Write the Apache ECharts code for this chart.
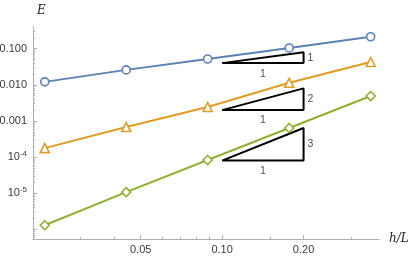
<!DOCTYPE html>
<html><head><meta charset="utf-8">
<script src="https://cdn.jsdelivr.net/npm/echarts@6/dist/echarts.min.js"></script>
<style>html,body{margin:0;padding:0;background:#fff}#c{width:415px;height:259px}</style>
</head><body><div id="c"></div>
<script>
// ---- data ----
const hL = [0.0221, 0.0442, 0.0884, 0.177, 0.354];
const errBlue = [0.0121, 0.026, 0.052, 0.105, 0.215];
const errOrange = [1.77e-4, 6.8e-4, 2.44e-3, 0.0114, 0.043];
const errGreen = [1.3e-6, 1.07e-5, 8.3e-5, 6.4e-4, 4.9e-3];
const xTickLabels = [0.05, 0.1, 0.2];
const xMinorTicks = [0.02, 0.03, 0.04, 0.06, 0.07, 0.08, 0.09, 0.15, 0.3];
const yTickLabels = [1e-5, 1e-4, 1e-3, 1e-2, 1e-1];
const yMajorTicks = [1e-6, 1e-5, 1e-4, 1e-3, 1e-2, 1e-1];
const slopeX = [0.1, 0.2];
const slopeBaseY = [0.04, 0.002, 8e-5];
const slopes = [1, 2, 3];

const yMinorTicks = [];
for (let e = -7; e <= -1; e++) for (let k = 2; k <= 9; k++) yMinorTicks.push(+(k * Math.pow(10, e)).toPrecision(3));

const xMin = 0.02, xMax = 0.38, yMin = 5.4e-7, yMax = 0.4;
const axisColor = '#b0b0b0';
const labelColor = '#3a3a3a';
const sans = 'Liberation Sans, Arial, sans-serif';
const fmtY = v => {
  if (v >= 0.0009) return '{b|' + v.toFixed(3) + '}';
  return '{b|10}{sup|-' + Math.round(-Math.log10(v)) + '}';
};

const series = [];
const colors = ['#5e81b5', '#e19c24', '#8fb032'];
const syms = ['circle', 'triangle', 'diamond'];
const sizes = [8, 9, 9];
[errBlue, errOrange, errGreen].forEach((arr, i) => {
  series.push({
    type: 'line', xAxisIndex: 0, yAxisIndex: 0,
    data: hL.map((x, j) => [x, arr[j]]),
    symbol: syms[i], symbolSize: sizes[i], showAllSymbol: true,
    lineStyle: { color: colors[i], width: 2 },
    itemStyle: { color: '#fff', borderColor: colors[i], borderWidth: 1.6 },
    z: 5, animation: false
  });
});
slopes.forEach((s, i) => {
  const y0 = slopeBaseY[i], y1 = y0 * Math.pow(slopeX[1] / slopeX[0], s);
  series.push({
    type: 'line', xAxisIndex: 0, yAxisIndex: 0,
    data: [[slopeX[0], y0], [slopeX[1], y0], [slopeX[1], y1], [slopeX[0], y0]],
    symbol: 'none', lineStyle: { color: '#000', width: 2 }, z: 3, animation: false
  });
  series.push({
    type: 'scatter', xAxisIndex: 0, yAxisIndex: 0, symbolSize: 0,
    data: [
      { value: [Math.sqrt(slopeX[0] * slopeX[1]), y0], label: { show: true, position: 'bottom', distance: 5, formatter: '1' } },
      { value: [slopeX[1], Math.sqrt(y0 * y1)], label: { show: true, position: 'right', distance: 4, formatter: String(s) } }
    ],
    label: { color: '#222', fontSize: 10.5, fontFamily: sans },
    z: 4, animation: false, silent: true
  });
});

const chart = echarts.init(document.getElementById('c'), null, { renderer: 'canvas' });
chart.setOption({
  animation: false,
  grid: { left: 33, right: 36, top: 27, bottom: 20, containLabel: false, outerBoundsMode: 'none' },
  xAxis: [
    {
      type: 'log', min: xMin, max: xMax,
      name: 'h/L', nameLocation: 'end', nameGap: 10,
      nameTextStyle: { fontFamily: 'DejaVu Serif, Liberation Serif, serif', fontStyle: 'italic', fontSize: 12, color: '#222', verticalAlign: 'middle' },
      axisLine: { show: true, lineStyle: { color: axisColor, width: 1 } },
      axisTick: { show: true, inside: true, length: 4, customValues: xTickLabels, lineStyle: { color: axisColor } },
      axisLabel: { show: true, customValues: xTickLabels, formatter: v => v.toFixed(2), fontSize: 11, color: labelColor, margin: 5, fontFamily: sans },
      splitLine: { show: false }, minorTick: { show: false }
    },
    {
      type: 'log', min: xMin, max: xMax, position: 'bottom',
      axisLine: { show: false },
      axisTick: { show: true, inside: true, length: 2, customValues: xMinorTicks, lineStyle: { color: axisColor } },
      axisLabel: { show: false }, splitLine: { show: false }
    }
  ],
  yAxis: [
    {
      type: 'log', min: yMin, max: yMax,
      name: 'E', nameLocation: 'end', nameGap: 10,
      nameTextStyle: { fontFamily: 'DejaVu Serif, Liberation Serif, serif', fontStyle: 'italic', fontSize: 12, color: '#222', align: 'left', padding: [0, 0, 0, 4] },
      axisLine: { show: true, lineStyle: { color: axisColor, width: 1 } },
      axisTick: { show: true, inside: true, length: 4, customValues: yMajorTicks, lineStyle: { color: axisColor } },
      axisLabel: {
        show: true, customValues: yTickLabels, formatter: fmtY, fontSize: 11, color: labelColor, margin: 6,
        fontFamily: sans,
        rich: {
          b: { fontSize: 11, color: labelColor, fontFamily: sans },
          sup: { fontSize: 8, verticalAlign: 'bottom', padding: [0, 0, 7, 0], color: labelColor, fontFamily: sans }
        }
      },
      splitLine: { show: false }
    },
    {
      type: 'log', min: yMin, max: yMax, position: 'left',
      axisLine: { show: false },
      axisTick: { show: true, inside: true, length: 2, customValues: yMinorTicks.filter(v => v > yMin && v < yMax), lineStyle: { color: axisColor } },
      axisLabel: { show: false }, splitLine: { show: false }
    }
  ],
  series: series
});
</script></body></html>
